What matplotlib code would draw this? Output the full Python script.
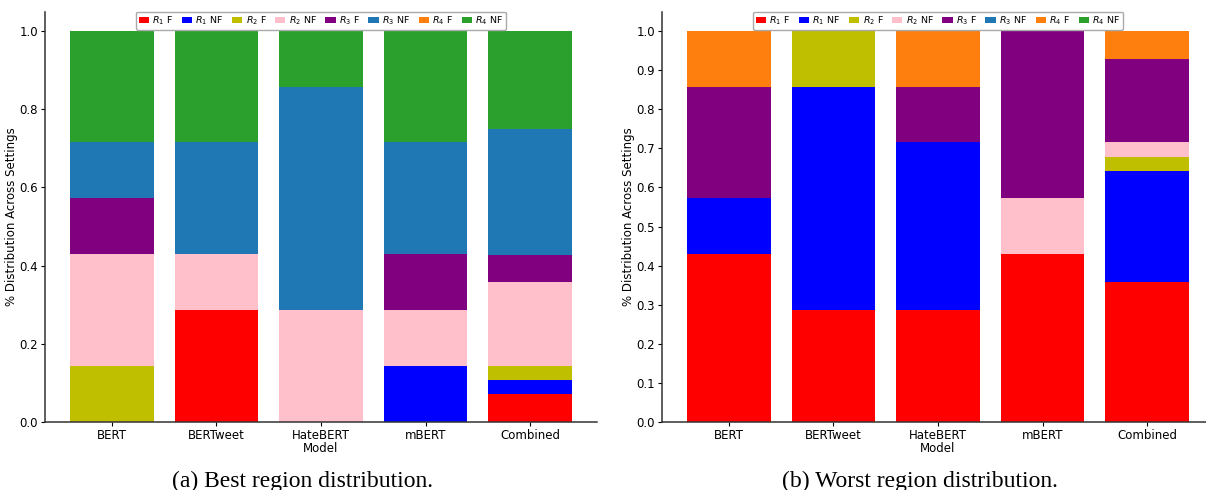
import numpy as np
import matplotlib
matplotlib.use("Agg")
import matplotlib.pyplot as plt
from matplotlib.ticker import MultipleLocator

models = ["BERT", "BERTweet", "HateBERT", "mBERT", "Combined"]
labels = ["$R_1$ F", "$R_1$ NF", "$R_2$ F", "$R_2$ NF",
          "$R_3$ F", "$R_3$ NF", "$R_4$ F", "$R_4$ NF"]
colors = ["red", "blue", "y", "pink", "purple", "#1f77b4", "#ff7f0e", "#2ca02c"]

# best region share per model (one list per category)
best_r1_f = [0.0, 0.286, 0.0, 0.0, 0.071]
best_r1_nf = [0.0, 0.0, 0.0, 0.143, 0.036]
best_r2_f = [0.143, 0.0, 0.0, 0.0, 0.036]
best_r2_nf = [0.286, 0.143, 0.286, 0.143, 0.214]
best_r3_f = [0.143, 0.0, 0.0, 0.143, 0.071]
best_r3_nf = [0.143, 0.286, 0.571, 0.286, 0.321]
best_r4_f = [0.0, 0.0, 0.0, 0.0, 0.0]
best_r4_nf = [0.286, 0.286, 0.143, 0.286, 0.25]

# worst region share per model
worst_r1_f = [0.429, 0.286, 0.286, 0.429, 0.357]
worst_r1_nf = [0.143, 0.571, 0.429, 0.0, 0.286]
worst_r2_f = [0.0, 0.143, 0.0, 0.0, 0.036]
worst_r2_nf = [0.0, 0.0, 0.0, 0.143, 0.036]
worst_r3_f = [0.286, 0.0, 0.143, 0.429, 0.214]
worst_r3_nf = [0.0, 0.0, 0.0, 0.0, 0.0]
worst_r4_f = [0.143, 0.0, 0.143, 0.0, 0.071]
worst_r4_nf = [0.0, 0.0, 0.0, 0.0, 0.0]

best = [best_r1_f, best_r1_nf, best_r2_f, best_r2_nf,
        best_r3_f, best_r3_nf, best_r4_f, best_r4_nf]
worst = [worst_r1_f, worst_r1_nf, worst_r2_f, worst_r2_nf,
         worst_r3_f, worst_r3_nf, worst_r4_f, worst_r4_nf]

plt.rcParams.update({
    "font.family": "DejaVu Sans",
    "axes.edgecolor": "#333333",
    "axes.linewidth": 1.1,
})

fig = plt.figure(figsize=(12.06, 4.9), dpi=100)
ax_a = fig.add_axes([0.0373, 0.1388, 0.4577, 0.8377])
ax_b = fig.add_axes([0.5489, 0.1388, 0.4577, 0.8377])


def stacked(ax, series, step):
    x = np.arange(len(models))
    bottom = np.zeros(len(models))
    for vals, lab, col in zip(series, labels, colors):
        vals = np.array(vals)
        ax.bar(x, vals, 0.8, bottom=bottom, color=col, label=lab)
        bottom += vals
    ax.set_xticks(x)
    ax.set_xticklabels(models)
    ax.set_ylim(0, 1.05)
    ax.yaxis.set_major_locator(MultipleLocator(step))
    ax.set_xlabel("Model", fontsize=8.5, labelpad=0)
    ax.set_ylabel("% Distribution Across Settings", fontsize=8.5, labelpad=1)
    ax.tick_params(labelsize=8.5, length=3, pad=2)
    ax.spines["top"].set_visible(False)
    ax.spines["right"].set_visible(False)
    ax.legend(loc="upper center", bbox_to_anchor=(0.5, 1.0), ncol=8,
              fontsize=6.8, handlelength=1.1, handleheight=0.5,
              handletextpad=0.35, columnspacing=0.9, borderpad=0.3,
              borderaxespad=0.0, framealpha=1.0, edgecolor="#aaaaaa")


stacked(ax_a, best, 0.2)
stacked(ax_b, worst, 0.1)

fig.text(303 / 1206, 1 - 481 / 490, "(a) Best region distribution.",
         ha="center", va="center", fontsize=17, family="Liberation Serif")
fig.text(920 / 1206, 1 - 481 / 490, "(b) Worst region distribution.",
         ha="center", va="center", fontsize=17, family="Liberation Serif")

fig.savefig("out.png", dpi=100)
